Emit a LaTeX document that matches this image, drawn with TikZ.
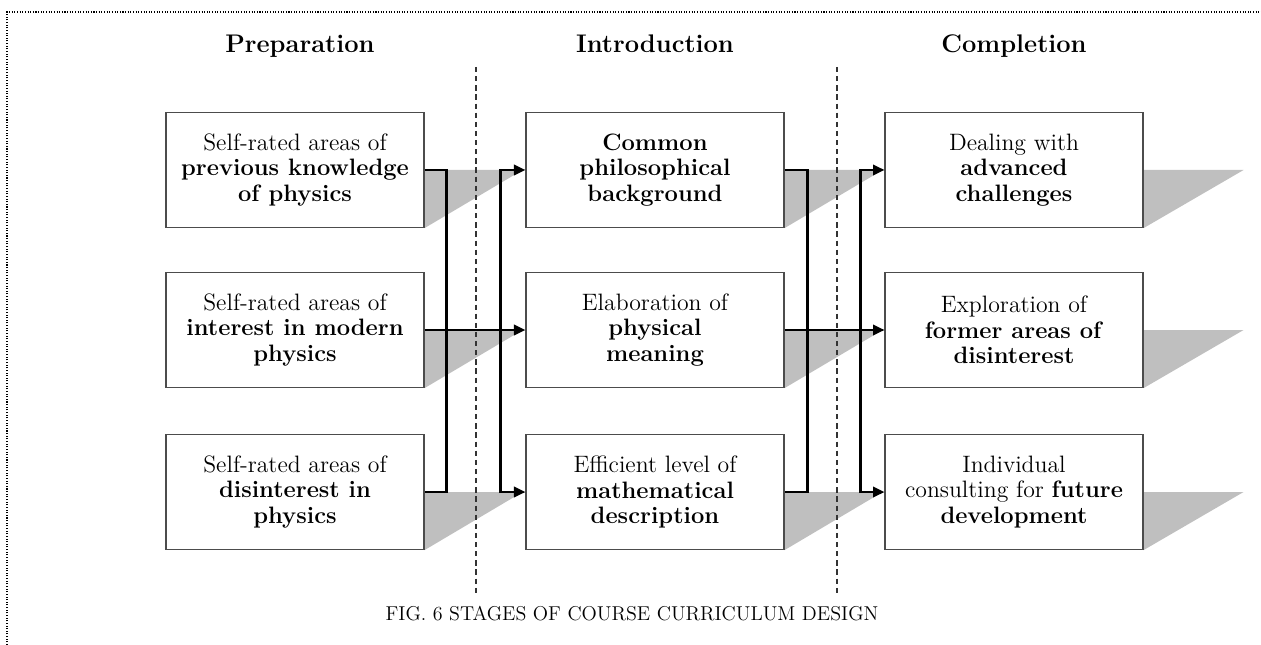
\documentclass[tikz,border=0pt]{standalone}
\usetikzlibrary{arrows.meta,backgrounds}
\begin{document}
\begin{tikzpicture}[x=0.02cm,y=-0.02cm,
	>={Triangle[length=6.5pt,width=6pt]},
	every node/.style={align=center,font=\fontsize{13.5}{14.5}\selectfont},
	box/.style={rectangle,draw=black!70,line width=0.7pt,fill=white,
	minimum width=5.16cm,minimum height=2.3cm,inner sep=2pt},
	head/.style={anchor=base,font=\fontsize{14.5}{17}\selectfont\bfseries},
	link/.style={line width=1.3pt},
	shade/.style={fill=black!25},
	sep/.style={black!80,line width=0.6pt,dash pattern=on 3pt off 2.2pt}]
\useasboundingbox (0,0) rectangle (1261,645);
\draw[line width=1pt,dash pattern=on 0.6pt off 0.9pt] (7,645) -- (7,12) -- (1261,12);

\node[head] (hp) at (300,53) {Preparation};
\node[head] (hi) at (655,53) {Introduction};
\node[head] (hc) at (1014,53) {Completion};

\node[box] (p1) at (295,170) {Self-rated areas of\\\textbf{previous knowledge}\\\textbf{of physics}};
\node[box] (p2) at (295,330) {Self-rated areas of\\\textbf{interest in modern}\\\textbf{physics}};
\node[box] (p3) at (295,492) {Self-rated areas of\\\textbf{disinterest in}\\\textbf{physics}};
\node[box] (i1) at (655,170) {\textbf{Common}\\\textbf{philosophical}\\\textbf{background}};
\node[box] (i2) at (655,330) {Elaboration of\\\textbf{physical}\\\textbf{meaning}};
\node[box] (i3) at (655,492) {Efficient level of\\\textbf{mathematical}\\\textbf{description}};
\node[box] (c1) at (1014,170) {Dealing with\\\textbf{advanced}\\\textbf{challenges}};
\node[box] (c2) at (1014,330) {Exploration of\\\textbf{former areas of}\\\textbf{disinterest}};
\node[box] (c3) at (1014,492) {Individual\\consulting for \textbf{future}\\\textbf{development}};

\begin{scope}[on background layer]
\fill[shade] (p1.east) -- ++(98,0) -- (p1.south east) -- cycle;
\fill[shade] (p2.east) -- ++(98,0) -- (p2.south east) -- cycle;
\fill[shade] (p3.east) -- ++(98,0) -- (p3.south east) -- cycle;
\fill[shade] (i1.east) -- ++(98,0) -- (i1.south east) -- cycle;
\fill[shade] (i2.east) -- ++(98,0) -- (i2.south east) -- cycle;
\fill[shade] (i3.east) -- ++(98,0) -- (i3.south east) -- cycle;
\fill[shade] (c1.east) -- ++(100,0) -- (c1.south east) -- cycle;
\fill[shade] (c2.east) -- ++(100,0) -- (c2.south east) -- cycle;
\fill[shade] (c3.east) -- ++(100,0) -- (c3.south east) -- cycle;
\end{scope}

\draw[sep] (476,67) -- (476,594);
\draw[sep] (837,67) -- (837,594);

\draw[link] (p1.east) -- ++(22,0) |- (p3.east);
\draw[link,->] (p2.east) -- (i2.west);
\draw[link,<->] (i1.west) -- ++(-25,0) |- (i3.west);
\draw[link] (i1.east) -- ++(23,0) |- (i3.east);
\draw[link,->] (i2.east) -- (c2.west);
\draw[link,<->] (c1.west) -- ++(-24,0) |- (c3.west);

\node[anchor=base,font=\fontsize{11.4}{13}\selectfont] (cap) at (632,620) {FIG. 6 STAGES OF COURSE CURRICULUM DESIGN};
\end{tikzpicture}
\end{document}
